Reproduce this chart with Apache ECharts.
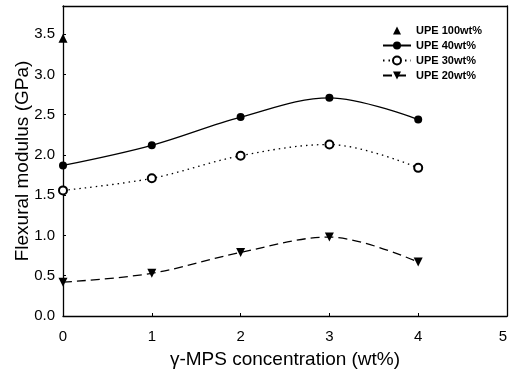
<!DOCTYPE html>
<html>
<head>
<meta charset="utf-8">
<script src="https://cdn.jsdelivr.net/npm/echarts@6/dist/echarts.min.js"></script>
<style>
html,body{margin:0;padding:0;background:#fff;}
#chart{width:509px;height:374px;}
</style>
</head>
<body>
<div id="chart"></div>
<script>
var concentrations = [0, 1, 2, 3, 4];
var upe100 = [3.45];
var upe40 = [1.87, 2.12, 2.47, 2.71, 2.44];
var upe30 = [1.56, 1.71, 1.99, 2.13, 1.84];
var upe20 = [0.42, 0.53, 0.79, 0.98, 0.67];
var xTicks = [0, 1, 2, 3, 4, 5];
var yTicks = [0.0, 0.5, 1.0, 1.5, 2.0, 2.5, 3.0, 3.5];
var seriesNames = ['UPE 100wt%', 'UPE 40wt%', 'UPE 30wt%', 'UPE 20wt%'];

function pairs(xs, ys) { return ys.map(function (v, i) { return [xs[i], v]; }); }

var chart = echarts.init(document.getElementById('chart'), null, {renderer: 'canvas'});
var font = 'Liberation Sans, Arial, Helvetica, sans-serif';
var lineC = {color: '#000', width: 1.3};
chart.setOption({
  animation: false,
  backgroundColor: '#fff',
  grid: {left: 63, right: 2, top: 6, bottom: 58, outerBoundsMode: 'none'},
  legend: {
    orient: 'vertical', left: 377, top: 20, itemGap: 4, itemWidth: 28, itemHeight: 10,
    data: seriesNames,
    textStyle: {fontFamily: font, fontSize: 11, fontWeight: 'bold', color: '#000'}
  },
  xAxis: [{
    type: 'value', min: xTicks[0], max: xTicks[xTicks.length - 1], interval: 1,
    name: 'γ-MPS concentration (wt%)', nameLocation: 'middle', nameGap: 34, nameMoveOverlap: false,
    nameTextStyle: {fontFamily: font, fontSize: 19, color: '#000'},
    axisLine: {show: true, onZero: false, lineStyle: lineC},
    axisTick: {show: true, inside: true, length: 3, lineStyle: {color: '#000'}},
    axisLabel: {fontFamily: font, fontSize: 15, color: '#000', margin: 13, alignMaxLabel: 'right'},
    splitLine: {show: false}
  }, {
    type: 'value', position: 'top', min: xTicks[0], max: xTicks[xTicks.length - 1], interval: 1,
    axisLine: {show: true, onZero: false, lineStyle: lineC},
    axisTick: {show: false}, axisLabel: {show: false}, splitLine: {show: false}
  }],
  yAxis: [{
    type: 'value', min: 0, max: 3.85, interval: 0.5,
    name: 'Flexural modulus (GPa)', nameLocation: 'middle', nameGap: 31, nameMoveOverlap: false,
    nameTextStyle: {fontFamily: font, fontSize: 19, color: '#000'},
    axisLine: {show: true, onZero: false, lineStyle: lineC},
    axisTick: {show: true, inside: true, length: 3, lineStyle: {color: '#000'}},
    axisLabel: {fontFamily: font, fontSize: 15, color: '#000', margin: 8, showMaxLabel: false,
      formatter: function (v) { return yTicks.indexOf(v) >= 0 ? v.toFixed(1) : ''; }},
    splitLine: {show: false}
  }, {
    type: 'value', position: 'right', min: 0, max: 3.85, interval: 0.5,
    axisLine: {show: true, onZero: false, lineStyle: lineC},
    axisTick: {show: false}, axisLabel: {show: false}, splitLine: {show: false}
  }],
  series: [
    {
      name: seriesNames[0], type: 'line', symbol: 'triangle', symbolSize: 9, clip: false,
      itemStyle: {color: '#000'}, lineStyle: {width: 0, opacity: 0},
      data: pairs(concentrations, upe100)
    },
    {
      name: seriesNames[1], type: 'line', smooth: 0.35, symbol: 'circle', symbolSize: 8, clip: false,
      itemStyle: {color: '#000'}, lineStyle: {color: '#000', width: 1.3, type: 'solid'},
      data: pairs(concentrations, upe40)
    },
    {
      name: seriesNames[2], type: 'line', smooth: 0.35, symbol: 'emptyCircle', symbolSize: 8, clip: false,
      itemStyle: {color: '#000', borderColor: '#000', borderWidth: 1.2},
      lineStyle: {color: '#000', width: 1.3, type: [1.5, 4]},
      data: pairs(concentrations, upe30)
    },
    {
      name: seriesNames[3], type: 'line', smooth: 0.35, symbol: 'triangle', symbolRotate: 180, symbolSize: 9, clip: false,
      itemStyle: {color: '#000'}, lineStyle: {color: '#000', width: 1.3, type: [9, 5]},
      data: pairs(concentrations, upe20)
    }
  ]
});
</script>
</body>
</html>
